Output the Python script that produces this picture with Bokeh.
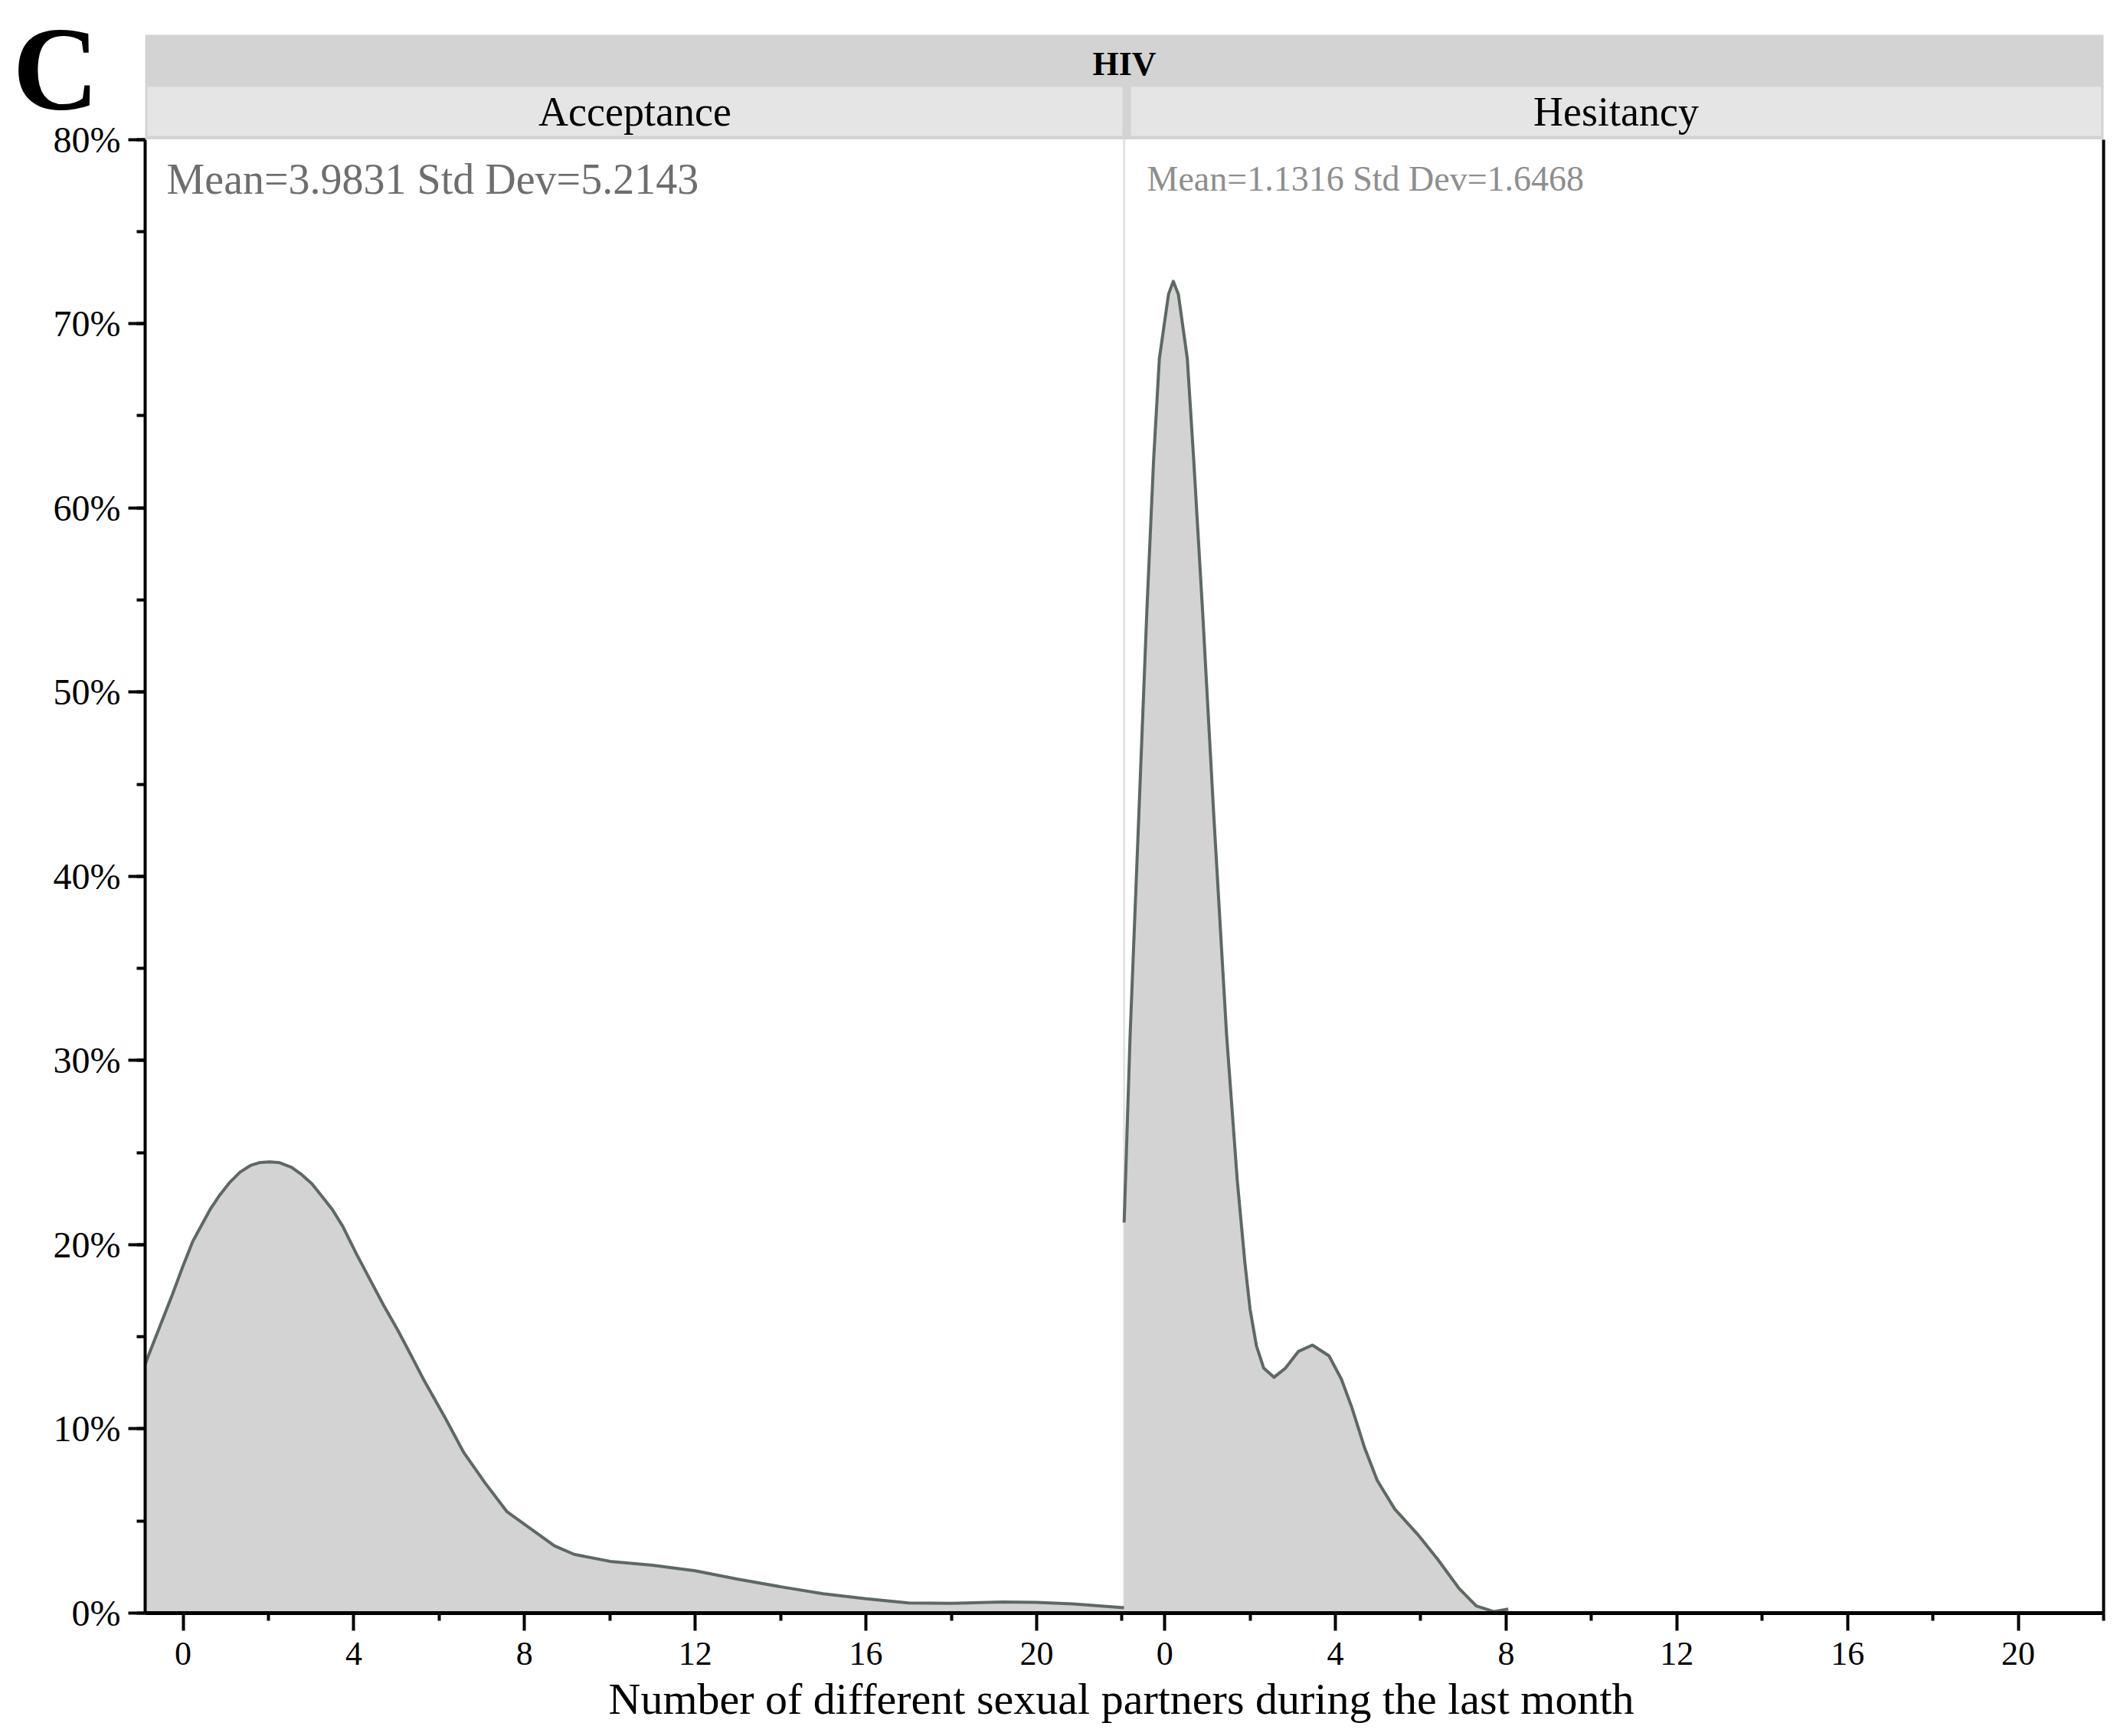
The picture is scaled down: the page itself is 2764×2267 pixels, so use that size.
from bokeh.plotting import figure
from bokeh.models import (Range1d, FixedTicker, SingleIntervalTicker, PrintfTickFormatter,
                          Label, LinearAxis)
from bokeh.embed import file_html
from bokeh.resources import INLINE

# ---------------- data (density in %) ----------------
x_accept = [-0.89, -0.81, -0.25, -0.01, 0.23, 0.63, 0.86, 1.10, 1.34, 1.58, 1.78, 2.02,
            2.26, 2.54, 2.78, 3.02, 3.26, 3.50, 3.74, 4.06, 4.38, 4.70, 5.02, 5.34,
            5.63, 6.14, 6.58, 7.08, 7.59, 8.25, 8.70, 9.16, 10.0, 11.0, 12.0, 13.0,
            14.0, 15.0, 16.0, 17.0, 18.0, 19.2, 20.0, 20.85, 22.05]
d_accept = [13.5, 14.0, 17.3, 18.8, 20.2, 21.9, 22.7, 23.4, 23.95, 24.3, 24.45, 24.5,
            24.45, 24.2, 23.8, 23.3, 22.6, 21.9, 21.0, 19.5, 18.1, 16.7, 15.4, 14.0,
            12.7, 10.6, 8.7, 7.05, 5.5, 4.4, 3.65, 3.19, 2.81, 2.6, 2.3, 1.84,
            1.43, 1.05, 0.78, 0.55, 0.53, 0.6, 0.58, 0.5, 0.29]

x_hesit = [-0.95, -0.81, -0.62, -0.42, -0.26, -0.125, 0.09, 0.20, 0.32, 0.53, 0.68,
           0.89, 1.15, 1.45, 1.70, 1.88, 2.0, 2.15, 2.32, 2.56, 2.83, 3.13, 3.46,
           3.85, 4.14, 4.38, 4.68, 4.98, 5.39, 5.93, 6.41, 6.89, 7.30, 7.72, 8.05]
d_hesit = [21.2, 31.4, 42.5, 54.3, 62.6, 68.1, 71.6, 72.3, 71.6, 68.1, 62.6,
           54.3, 43.3, 31.4, 23.5, 19.0, 16.5, 14.5, 13.3, 12.8, 13.3, 14.2, 14.55,
           13.97, 12.7, 11.2, 9.0, 7.2, 5.65, 4.27, 2.88, 1.36, 0.39, 0.08, 0.22]

group_title = "HIV"
panel_titles = ["Acceptance", "Hesitancy"]
panel_stats = ["Mean=3.9831  Std Dev=5.2143", "Mean=1.1316  Std Dev=1.6468"]
panel_letter = "C"
x_major = [0, 4, 8, 12, 16, 20]
x_minor = [2, 6, 10, 14, 18, 22]
x_title = "Number of different sexual partners during the last month"
y_limits = (0, 80)

# ---------------- layout constants (pixels of the page) ----------------
FONT = "Liberation Serif"
FILL = "#d3d3d3"
LINE = "#5e6961"
W, H = 2764, 2267
FRAME_L, FRAME_R = 189, 2746      # left / right edge of the facets
Y0_PX, Y80_PX = 2106, 181.6       # pixel rows of 0 % and 80 %
PANEL_X = (-0.89, 22.05)          # x window of the first facet
OFFSET = 23                       # horizontal shift of the second facet
PANEL2_X = (-0.95, 22.0)          # x window of the second facet

x_start = PANEL_X[0]
x_end = OFFSET + PANEL2_X[1]
boundary = PANEL_X[1]
ux = (FRAME_R - FRAME_L) / (x_end - x_start)
uy = (Y0_PX - Y80_PX) / (y_limits[1] - y_limits[0])


def px2x(px):
    return x_start + (px - FRAME_L) / ux


def px2y(py):
    return (Y0_PX - py) / uy


p = figure(width=W, height=H,
           x_range=Range1d(px2x(0), px2x(W)), y_range=Range1d(px2y(H), px2y(0)),
           output_backend="svg", toolbar_location=None, min_border=0)
p.grid.visible = False
p.outline_line_color = None
p.background_fill_color = "white"
p.border_fill_color = "white"

# divider between the facets
p.segment(x0=[boundary], y0=[y_limits[0]], x1=[boundary], y1=[y_limits[1]],
          line_color="#e3e3e3", line_width=3)

# density areas
x_hesit_shift = [v + OFFSET for v in x_hesit]
p.varea(x=x_accept, y1=[0] * len(x_accept), y2=d_accept, fill_color=FILL)
p.line(x=x_accept, y=d_accept, line_color=LINE, line_width=4, line_join="round")
p.varea(x=x_hesit_shift, y1=[0] * len(x_hesit), y2=d_hesit, fill_color=FILL)
p.line(x=x_hesit_shift, y=d_hesit, line_color=LINE, line_width=4, line_join="round")

# header strips
p.quad(left=[x_start], right=[x_end], bottom=[y_limits[1]], top=[px2y(45)],
       fill_color="#d3d3d3", line_color=None)
p.quad(left=[px2x(192), px2x(1476)], right=[px2x(1465), px2x(2743)],
       bottom=[px2y(177)] * 2, top=[px2y(113)] * 2, fill_color="#e5e5e5",
       line_color=None)

# x axis (one axis line under both facets)
ticks = x_major + [v + OFFSET for v in x_major]
minor = x_minor + [v + OFFSET for v in x_minor]
xa = p.xaxis[0]
xa.fixed_location = y_limits[0]
xa.bounds = (x_start, x_end)
xa.ticker = FixedTicker(ticks=ticks, minor_ticks=minor)
xa.major_label_overrides = {v + OFFSET: str(v) for v in x_major}
xa.axis_line_width = 5
xa.axis_line_color = "black"
xa.major_tick_line_width = 4
xa.minor_tick_line_width = 4
xa.major_tick_out = 23
xa.major_tick_in = 0
xa.minor_tick_out = 10
xa.minor_tick_in = 0
xa.major_label_text_font = FONT
xa.major_label_text_font_size = "44px"
xa.major_label_text_color = "black"
xa.major_label_standoff = 15

# y axis
ya = p.yaxis[0]
ya.fixed_location = x_start
ya.bounds = y_limits
ya.ticker = SingleIntervalTicker(interval=10, num_minor_ticks=2)
ya.formatter = PrintfTickFormatter(format="%d%%")
ya.axis_line_width = 4
ya.axis_line_color = "black"
ya.major_tick_line_width = 4
ya.minor_tick_line_width = 4
ya.major_tick_out = 22
ya.major_tick_in = 0
ya.minor_tick_out = 11
ya.minor_tick_in = 0
ya.major_label_text_font = FONT
ya.major_label_text_font_size = "48px"
ya.major_label_text_color = "black"
ya.major_label_standoff = 10

# right frame line of the second facet
ra = LinearAxis(fixed_location=x_end, bounds=y_limits, ticker=FixedTicker(ticks=[]),
                axis_line_width=4, axis_line_color="black", major_tick_out=0,
                minor_tick_out=0, major_label_standoff=0)
p.add_layout(ra, "right")


# texts (baseline positions in page pixels; small lift for the svg baseline)
def lab(px, py, text, size, color="black", align="left", style="normal"):
    p.add_layout(Label(x=px2x(px), y=px2y(py - 0.32 * size), text=text, text_font=FONT,
                       text_font_size=f"{size}px", text_color=color, text_align=align,
                       text_font_style=style, text_baseline="alphabetic"))


lab(16, 139, panel_letter, 156, style="bold")
lab((FRAME_L + FRAME_R) / 2, 97, group_title, 44, align="center", style="bold")
lab((192 + 1465) / 2, 163, panel_titles[0], 54, align="center")
lab((1476 + 2743) / 2, 163, panel_titles[1], 54, align="center")
lab(217, 251, panel_stats[0], 56, color="#6e6e6e")
lab(1497, 248, panel_stats[1], 46, color="#8e8e8e")
lab((FRAME_L + FRAME_R) / 2 - 4, 2237, x_title, 58, align="center")

open("out.html", "w").write(file_html(p, INLINE))
